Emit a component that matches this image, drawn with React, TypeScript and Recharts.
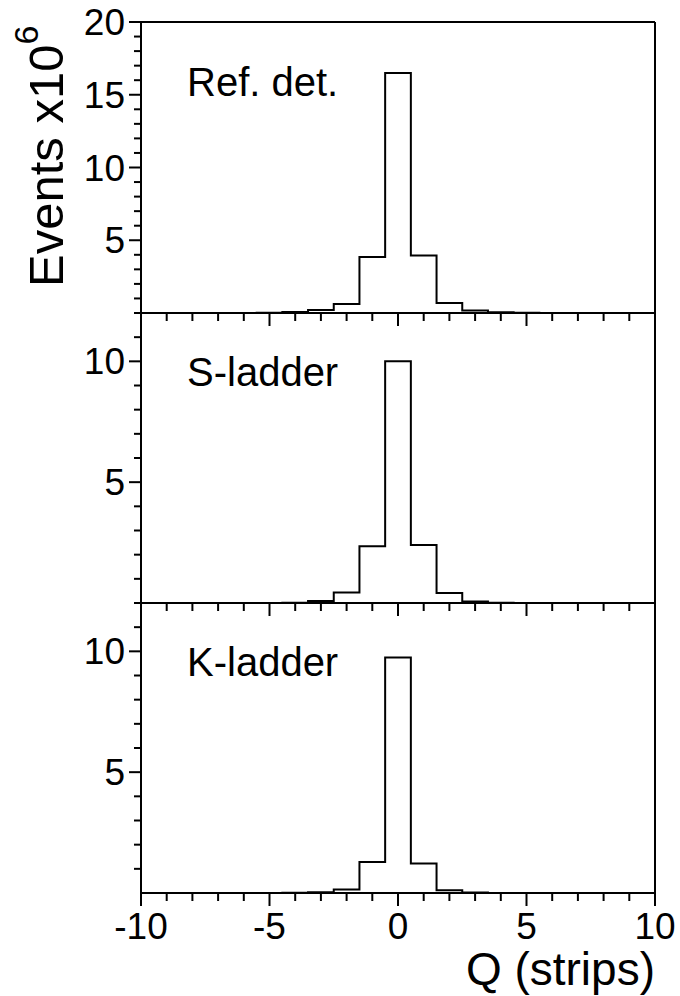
import React from 'react';
import { LineChart, Line, XAxis, YAxis, ReferenceLine } from 'recharts';

// bin centres in strips, one bin per strip
const binCentres = [-5, -4, -3, -2, -1, 0, 1, 2, 3, 4, 5];

// events per bin, x10^6
const refDetCounts = [0.02, 0.07, 0.2, 0.62, 3.85, 16.5, 3.95, 0.69, 0.18, 0.05, 0.02];
const sLadderCounts = [0, 0.01, 0.08, 0.43, 2.35, 10.0, 2.4, 0.41, 0.06, 0.01, 0];
const kLadderCounts = [0, 0.01, 0.03, 0.14, 1.28, 9.75, 1.22, 0.11, 0.02, 0, 0];

const qTicks = [-10, -9, -8, -7, -6, -5, -4, -3, -2, -1, 0, 1, 2, 3, 4, 5, 6, 7, 8, 9, 10];
const qLabelled = [-10, -5, 0, 5, 10];
const refTicks = [1, 2, 3, 4, 5, 6, 7, 8, 9, 10, 11, 12, 13, 14, 15, 16, 17, 18, 19, 20];
const refLabelled = [5, 10, 15, 20];
const ladderTicks = [1, 2, 3, 4, 5, 6, 7, 8, 9, 10, 11, 12];
const ladderLabelled = [5, 10];

const W = 680;
const PLOT_LEFT = 141;
const PLOT_RIGHT = 655;
const PAD_TOP = 24;
const AXIS_H = 60;
const FONT = '"Liberation Sans", Arial, Helvetica, sans-serif';
const TICK_FONT = 37;

// histogram outline: left edge of each bin, then drop back to zero
const toSteps = (counts: number[]) => {
  const pts = [{ q: binCentres[0] - 0.5, n: 0 }];
  binCentres.forEach((c, i) => pts.push({ q: c - 0.5, n: counts[i] }));
  pts.push({ q: binCentres[binCentres.length - 1] + 0.5, n: 0 });
  return pts;
};

const makeQTick = (showLabels: boolean) => (props: any) => {
  const { x, y, payload } = props;
  const major = qLabelled.includes(payload.value);
  return (
    <g>
      <line x1={x} y1={y} x2={x} y2={y + (major ? 13 : 8)} stroke="#000" strokeWidth={2} />
      {showLabels && major && (
        <text x={x} y={y + 46} textAnchor="middle" fontSize={TICK_FONT} fontFamily={FONT} fill="#000">
          {payload.value}
        </text>
      )}
    </g>
  );
};

const makeCountTick = (labelled: number[]) => (props: any) => {
  const { x, y, payload } = props;
  const major = labelled.includes(payload.value);
  return (
    <g>
      <line x1={x} y1={y} x2={x - (major ? 12 : 7)} y2={y} stroke="#000" strokeWidth={2} />
      {major && (
        <text x={x - 16} y={y + 13} textAnchor="end" fontSize={TICK_FONT} fontFamily={FONT} fill="#000">
          {payload.value}
        </text>
      )}
    </g>
  );
};

interface PanelProps {
  top: number;
  height: number;
  counts: number[];
  yMax: number;
  yTicks: number[];
  yLabelled: number[];
  showQLabels: boolean;
}

const Panel: React.FC<PanelProps> = ({ top, height, counts, yMax, yTicks, yLabelled, showQLabels }) => (
  <div style={{ position: 'absolute', left: 0, top: top - PAD_TOP }}>
    <LineChart
      width={W}
      height={PAD_TOP + height + AXIS_H}
      data={toSteps(counts)}
      margin={{ top: PAD_TOP, right: W - PLOT_RIGHT, bottom: 0, left: 0 }}
    >
      <XAxis
        dataKey="q"
        type="number"
        domain={[-10, 10]}
        ticks={qTicks}
        interval={0}
        height={AXIS_H}
        tickSize={0}
        tickMargin={0}
        tickLine={false}
        axisLine={{ stroke: '#000', strokeWidth: 2 }}
        tick={makeQTick(showQLabels)}
        allowDataOverflow
      />
      <YAxis
        type="number"
        domain={[0, yMax]}
        ticks={yTicks}
        interval={0}
        width={PLOT_LEFT}
        tickSize={0}
        tickMargin={0}
        tickLine={false}
        axisLine={{ stroke: '#000', strokeWidth: 2 }}
        tick={makeCountTick(yLabelled)}
        allowDataOverflow
      />
      <ReferenceLine y={yMax} stroke="#000" strokeWidth={2} />
      <ReferenceLine x={10} stroke="#000" strokeWidth={2} />
      <Line
        dataKey="n"
        type="stepAfter"
        stroke="#000"
        strokeWidth={2}
        dot={false}
        activeDot={false}
        isAnimationActive={false}
      />
    </LineChart>
  </div>
);

const labelStyle = { fontSize: 40, fontFamily: FONT, fill: '#000' };

export default function App() {
  return (
    <div style={{ position: 'absolute', left: 0, top: 0, width: W, height: 996, background: '#fff' }}>
      <Panel top={22} height={291} counts={refDetCounts} yMax={20} yTicks={refTicks} yLabelled={refLabelled} showQLabels={false} />
      <Panel top={313} height={290} counts={sLadderCounts} yMax={12} yTicks={ladderTicks} yLabelled={ladderLabelled} showQLabels={false} />
      <Panel top={603} height={290} counts={kLadderCounts} yMax={12} yTicks={ladderTicks} yLabelled={ladderLabelled} showQLabels />
      <svg width={W} height={996} style={{ position: 'absolute', left: 0, top: 0, pointerEvents: 'none' }}>
        <text x={187} y={96} {...labelStyle}>Ref. det.</text>
        <text x={187} y={386} {...labelStyle}>S-ladder</text>
        <text x={187} y={676} {...labelStyle}>K-ladder</text>
        <text x={655} y={985} textAnchor="end" fontSize={46} fontFamily={FONT} fill="#000">Q (strips)</text>
        <text transform="translate(63,287) rotate(-90)" fontSize={49} fontFamily={FONT} fill="#000">
          Events x10
          <tspan dy={-25} fontSize={34}>6</tspan>
        </text>
      </svg>
    </div>
  );
}
